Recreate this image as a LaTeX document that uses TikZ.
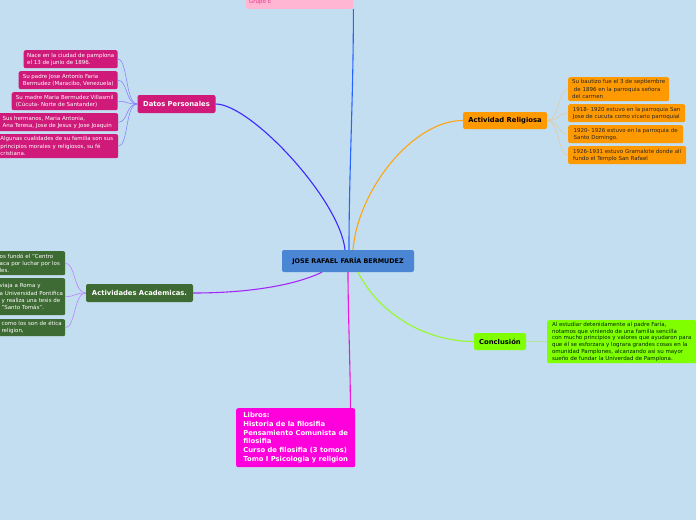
\documentclass[tikz,border=0pt]{standalone}
\usepackage{fontspec}
\setmainfont{DejaVu Sans}
\usetikzlibrary{positioning}
\definecolor{bgblue}{RGB}{195,222,240}
\definecolor{rootblue}{RGB}{74,134,212}
\definecolor{datosc}{RGB}{208,26,122}
\definecolor{religc}{RGB}{255,153,0}
\definecolor{acadc}{RGB}{62,106,51}
\definecolor{conclc}{RGB}{128,255,0}
\definecolor{librosc}{RGB}{255,0,221}
\definecolor{grupoc}{RGB}{255,182,210}
\definecolor{grupotxt}{RGB}{225,60,140}
\definecolor{lnblue}{RGB}{40,100,255}
\definecolor{lndatos}{RGB}{60,40,255}
\definecolor{lndatosl}{RGB}{130,120,255}
\definecolor{lnrelig}{RGB}{255,165,20}
\definecolor{lnreligl}{RGB}{232,200,150}
\definecolor{lnacad}{RGB}{165,40,250}
\definecolor{lnacadl}{RGB}{185,120,255}
\definecolor{lnconcl}{RGB}{150,250,40}
\definecolor{lnconcll}{RGB}{170,230,120}
\definecolor{lnlibros}{RGB}{240,20,220}
\newcommand\leafsize{\fontsize{5.5}{7.3}\selectfont}
\newcommand\topicsize{\fontsize{6.8}{8}\selectfont}
\newcommand\rootsize{\fontsize{6.4}{7.5}\selectfont}
\newcommand\bookssize{\fontsize{6.8}{8.7}\selectfont}
\newcommand\conclsize{\fontsize{5.5}{6.7}\selectfont}
\tikzset{
  root/.style={rounded corners=2pt, fill=rootblue, font=\rootsize\bfseries, minimum width=132pt, minimum height=22pt, inner sep=2pt},
  topic/.style={rounded corners=2pt, font=\topicsize\bfseries, minimum height=17pt, inner sep=2pt},
  leaf/.style={rounded corners=2pt, font=\leafsize, align=left, anchor=north west, inner xsep=3pt, inner ysep=1pt},
  cutleaf/.style={leaf, text width=62.5pt},
  trunk/.style={line width=1.1pt},
  twig/.style={line width=0.5pt}}

\begin{document}
\begin{tikzpicture}[x=1pt, y=-1pt]
  \useasboundingbox (0,0) rectangle (696,520);
  \fill[bgblue] (0,0) rectangle (696,520);
  \clip (0,0) rectangle (696,520);

  % centre and main topics
  \node[root] (root) at (348,261) {JOSE RAFAEL FARÍA BERMUDEZ};
  \node[leaf, anchor=south west, fill=grupoc, text=grupotxt, text width=101pt, minimum height=14pt] (grupo) at (246,9) {Grupo E};
  \node[topic, fill=datosc, text=white, minimum width=78pt, minimum height=18pt] (datos) at (176.5,104) {Datos Personales};
  \node[topic, fill=religc, minimum width=84pt] (relig) at (505,120.5) {Actividad Religiosa};
  \node[topic, fill=acadc, text=white, minimum width=107pt, minimum height=18pt] (acad) at (139.5,293) {Actividades Academicas.};
  \node[topic, fill=conclc, minimum width=52pt] (concl) at (500,341.5) {Conclusión};
  \node[leaf, fill=librosc, text=white, font=\bookssize\bfseries, minimum width=119pt, minimum height=59pt] (libros) at (236,408)
    {Libros:\\Historia de la filosifia\\Pensamiento Comunista de\\filosifia\\Curso de filosifia (3 tomos)\\Tomo I Psicologia y religion};

  % Datos Personales
  \node[leaf, fill=datosc, text=white, minimum width=94pt, minimum height=18pt] (dp1) at (23.5,50) {Nace en la ciudad de pamplona\\el 13 de junio de 1896.};
  \node[leaf, fill=datosc, text=white, minimum width=99pt, minimum height=18pt] (dp2) at (18.5,71) {Su padre Jose Antonio Faria\\Bermudez (Maracibo, Venezuela)};
  \node[leaf, fill=datosc, text=white, minimum width=106pt, minimum height=18pt] (dp3) at (11.5,92) {Su madre Maria Bermudez Villasmil\\(Cúcuta- Norte de Santander)};
  \node[leaf, fill=datosc, text=white, minimum width=122pt, minimum height=18pt] (dp4) at (-4,113) {Sus hermanos, Maria Antonia,\\Ana Teresa, Jose de Jesus y Jose Joaquin};
  \node[leaf, fill=datosc, text=white, minimum width=123pt, minimum height=24pt] (dp5) at (-5,134) {Algunas cualidades de su familia son sus\\principios morales y religiosos, su fé\\cristiana.};

  % Actividad Religiosa
  \node[leaf, fill=religc, text=black!85, minimum width=101pt, minimum height=24pt] (ar1) at (568,77) {Su bautizo fue el 3 de septiembre\\\ de 1896 en la parroquia señora\\del carmen};
  \node[leaf, fill=religc, text=black!85, minimum width=117pt, minimum height=18pt] (ar2) at (568,104) {1918- 1920 estuvo en la parroquia San\\Jose de cucuta como vicario parroquial};
  \node[leaf, fill=religc, text=black!85, minimum width=115pt, minimum height=18pt] (ar3) at (568,125) {1920- 1926 estuvo en la parroquia de\\Santo Domingo.};
  \node[leaf, fill=religc, text=black!85, minimum width=118pt, minimum height=18pt] (ar4) at (568,146) {1926-1931 estuvo Gramalote donde alí\\fundo el Templo San Rafael};

  % Actividades Academicas (cut at the left edge)
  \node[cutleaf, fill=acadc, text=white, minimum height=24pt] (aa1) at (-3.5,251) {\mbox{os fundó el "Centro}\\\mbox{aca por luchar por los}\\\mbox{les.}};
  \node[cutleaf, fill=acadc, text=white, minimum height=37pt] (aa2) at (-3.5,278) {\mbox{viaja a Roma y}\\\mbox{a Universidad Pontifica}\\\mbox{\ y realiza una tesis de}\\\mbox{\ "Santo Tomás".}};
  \node[cutleaf, fill=acadc, text=white, minimum height=17pt] (aa3) at (-3.5,319) {\mbox{\ como los son de ética}\\\mbox{\ religion,}};

  % Conclusion
  \node[leaf, fill=conclc, font=\conclsize, text=black!85!green, minimum width=149pt, minimum height=43pt] (cc) at (547,320)
    {Al estudiar detenidamente al padre Faría,\\notamos que viniendo de una familia sencilla\\con mucho principios y valores que ayudaron para\\que él se esforzara y lograra grandes cosas en la\\omunidad Pamplones, alcanzando asi su mayor\\sueño de fundar la Univerdad de Pamplona.};

  % main connectors
  \draw[trunk, lnblue] ([xshift=1pt]root.north) .. controls +(0,-80) and +(0,90) .. (grupo.south east);
  \draw[trunk, lndatos] ([xshift=-3pt]root.north) .. controls +(-5,-50) and +(35,0) .. (datos.east);
  \draw[trunk, lnrelig] ([xshift=5pt]root.north) .. controls +(5,-60) and +(-50,0) .. (relig.west);
  \draw[trunk, lnacad] ([xshift=-26pt]root.south) .. controls +(-25,12) and +(60,0) .. (acad.east);
  \draw[trunk, lnlibros] (root.south) .. controls +(0,40) and +(0,-40) .. ([xshift=-5pt]libros.north east);
  \draw[trunk, lnconcl] ([xshift=10pt]root.south) .. controls +(20,40) and +(-50,0) .. (concl.west);

  % branch connectors
  \foreach \k in {1,...,5} \draw[twig, lndatosl] (datos.west) .. controls +(-12,0) and +(10,0) .. (dp\k.east);
  \foreach \k in {1,...,4} \draw[twig, lnreligl] (relig.east) .. controls +(12,0) and +(-10,0) .. (ar\k.west);
  \foreach \k in {1,2,3} \draw[twig, lnacadl] (acad.west) .. controls +(-12,0) and +(10,0) .. (aa\k.east);
  \draw[twig, lnconcll] (concl.east) -- (cc.west);
\end{tikzpicture}
\end{document}
